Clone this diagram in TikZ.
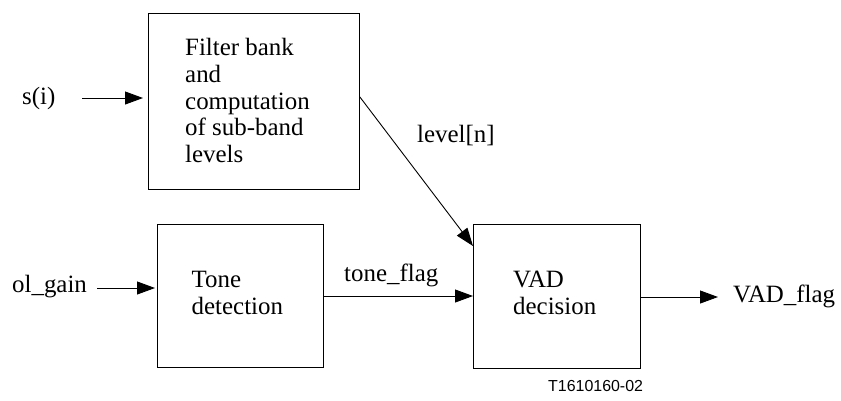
\documentclass[tikz,border=0pt]{standalone}
\usepackage{fontspec}
\setmainfont{Liberation Serif}
\newfontfamily\codefont{Liberation Sans}
\usetikzlibrary{arrows.meta}
\begin{document}
\begin{tikzpicture}[x=1bp,y=-1bp,
  blockbox/.style={draw,line width=0.9bp,inner sep=0,anchor=north west},
  lbl/.style={font=\fontsize{25}{27}\selectfont,inner sep=0,align=left},
  sig/.style={line width=0.9bp,-{Triangle[length=18bp,width=13bp]}}]
\useasboundingbox (0,0) rectangle (841,400);
% boxes
\node[blockbox,minimum width=211bp,minimum height=176bp] (fb) at (148,13) {};
\node[blockbox,minimum width=166bp,minimum height=143bp] (td) at (157,224) {};
\node[blockbox,minimum width=167bp,minimum height=144bp] (vad) at (473,224) {};
% box texts
\node[lbl,anchor=west] (fbt) at (185,100.5) {Filter bank\\and\\computation\\of sub-band\\levels};
\node[lbl,anchor=west] (tdt) at (191.5,293) {Tone\\detection};
\node[lbl,anchor=west] (vadt) at (513,293) {VAD\\decision};
% signal labels
\node[lbl,anchor=base west] (si) at (22,104) {s(i)};
\node[lbl,anchor=base west] (olg) at (12,292) {ol\_gain};
\node[lbl,anchor=base west] (tf) at (344,281) {tone\_flag};
\node[lbl,anchor=base west] (lv) at (417,142) {level[n]};
\node[lbl,anchor=base west] (vf) at (733,302) {VAD\_flag};
\node[font=\codefont\fontsize{16}{18}\selectfont,inner sep=0,anchor=west] (code) at (548,386) {T1610160-02};
% connectors
\coordinate (siend) at (82,98);
\coordinate (olend) at (97,288);
\draw[sig,shorten >=5bp] (siend) -- (siend -| fb.west);
\draw[sig,shorten >=2bp] (olend) -- (olend -| td.west);
\draw[sig] (td.east |- 0,296) -- (vad.west |- 0,296);
\draw[sig] (fb.east |- 0,97) -- (vad.west |- 0,246);
\draw[sig] (vad.east |- 0,297) -- (718,297);
\end{tikzpicture}
\end{document}
